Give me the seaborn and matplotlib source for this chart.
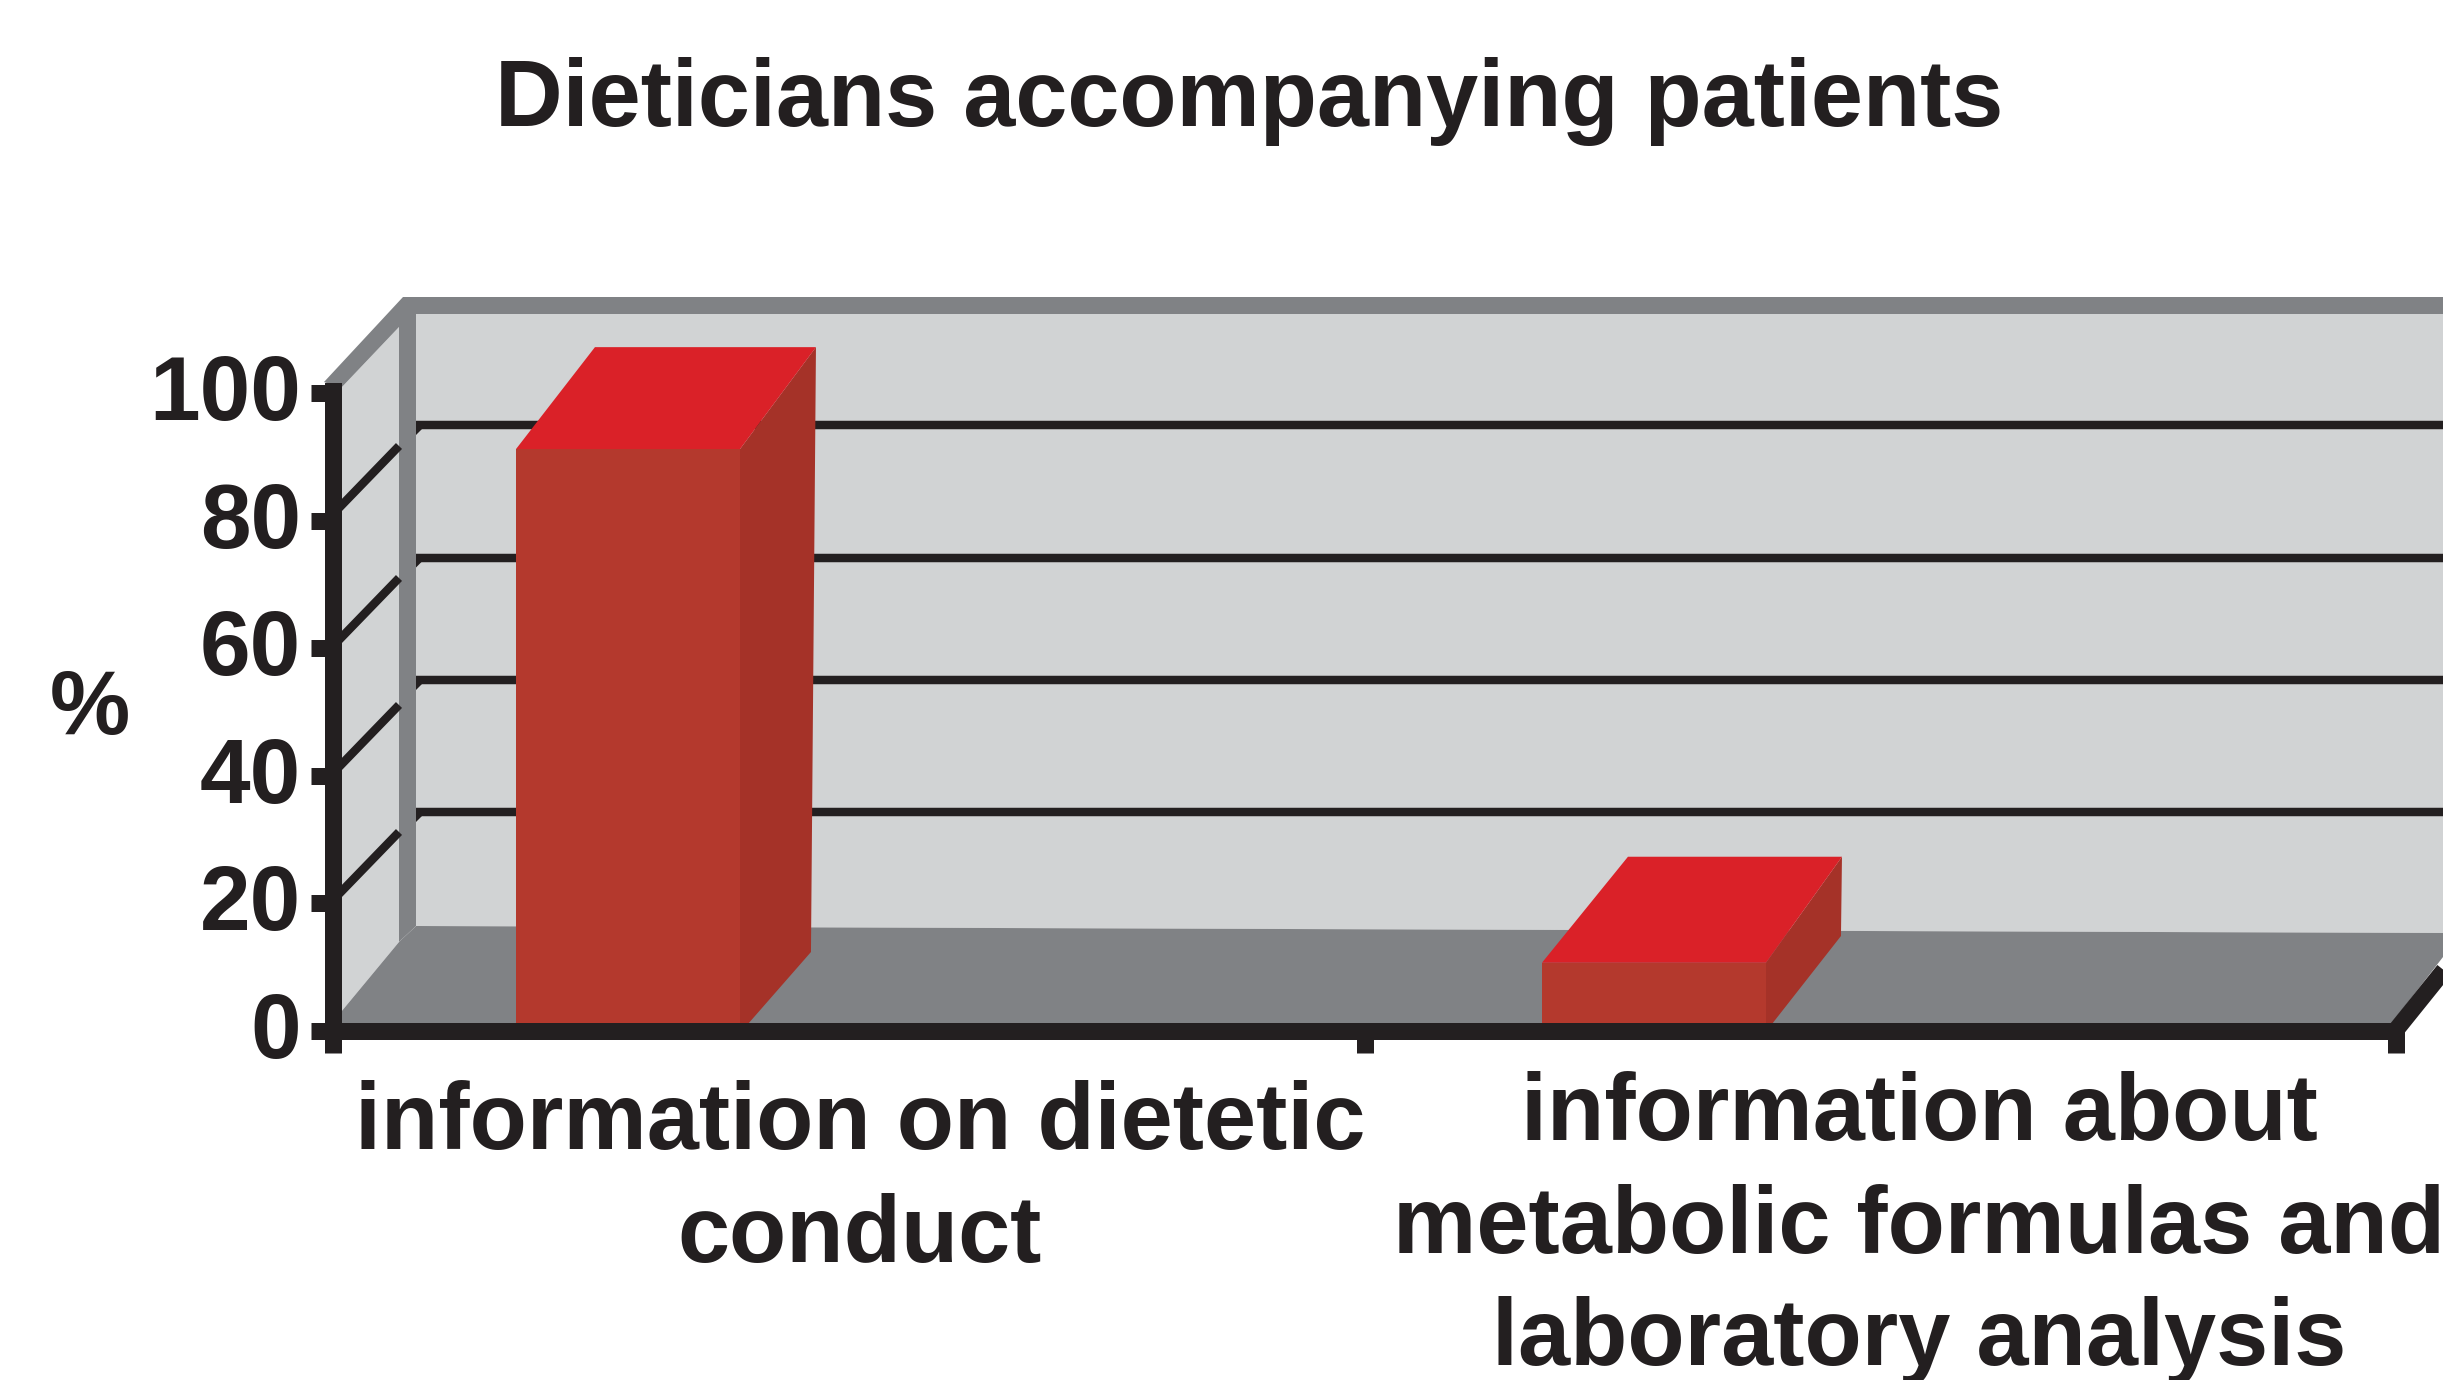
import matplotlib
matplotlib.use('Agg')
import matplotlib.pyplot as plt
from matplotlib.patches import Polygon
from matplotlib.transforms import ScaledTranslation
import pandas as pd
import seaborn as sns

# values
categories = ['information on dietetic\nconduct',
              'information about\nmetabolic formulas and\nlaboratory analysis']
percent = [91.2, 10.7]
# the two other series of the cluster have no visible bar
empty_series = [0, 0]
y_ticks = [0, 20, 40, 60, 80, 100]

WALL = '#d1d3d4'
FRAME = '#808285'
BLACK = '#231f20'
RED_FRONT = '#b4392d'
RED_SIDE = '#a53228'
RED_TOP = '#da2128'

W, H = 2443, 1380
sns.set_theme(style='white')
plt.rcParams['font.family'] = ['Liberation Sans', 'DejaVu Sans']
plt.rcParams['font.weight'] = 'bold'

fig = plt.figure(figsize=(W / 100, H / 100), dpi=100, facecolor='white')

# background axes in image pixels, holds the fake 3D room
bg = fig.add_axes([0, 0, 1, 1], zorder=0)
bg.set_xlim(0, W)
bg.set_ylim(H, 0)
bg.axis('off')

# chart axes sit on the front edge of the room
left, right, base, top = 332.5, 2395.5, 1031, 390.5
ax = fig.add_axes([left / W, 1 - base / H, (right - left) / W, (base - top) / H], zorder=1)
ax.patch.set_alpha(0)

df = pd.concat([
    pd.DataFrame({'category': categories, 'percent': percent, 'series': 'a'}),
    pd.DataFrame({'category': categories, 'percent': empty_series, 'series': 'b'}),
    pd.DataFrame({'category': categories, 'percent': empty_series, 'series': 'c'}),
])
sns.barplot(data=df, x='category', y='percent', hue='series', hue_order=['a', 'b', 'c'],
            palette={'a': RED_FRONT, 'b': RED_FRONT, 'c': RED_FRONT}, saturation=1,
            width=0.655, linewidth=0, legend=False, ax=ax)
xmin, xmax = -0.5063, 1.5044
ax.set_xlim(xmin, xmax)
ax.set_ylim(0, (base - top) / 6.38)

# room: back wall, left wall, floor
bg.add_patch(Polygon([(416, 314), (W, 314), (W, 933), (416, 926)], fc=WALL, ec='none'))
bg.add_patch(Polygon([(341, 388), (399, 327), (399, 942), (341, 1012)], fc=WALL, ec='none'))
bg.add_patch(Polygon([(399, 942), (416, 926), (W, 933), (W, 957), (2391, 1024), (341, 1024), (341, 1012)],
                     fc=FRAME, ec='none'))

# gridlines on both walls
for y in [425, 557.5, 680, 812]:
    bg.plot([416, W], [y, y], color=BLACK, lw=6.1, solid_capstyle='butt')
    bg.add_patch(Polygon([(416, y + 3), (423, y + 3), (416, y + 10)], fc=BLACK, ec='none'))
for y0, y1 in [(506, 446), (638, 578), (765, 705), (892, 832)]:
    bg.plot([338, 399], [y0 + 3, y1], color=BLACK, lw=6.1, solid_capstyle='butt')

# grey frame
bg.add_patch(Polygon([(324, 382), (403, 297), (W, 297), (W, 314), (416, 314), (416, 926), (399, 942),
                      (399, 327), (341, 388)], fc=FRAME, ec='none'))

# right edge of floor
bg.plot([2396, 2470], [1030, 938], color=BLACK, lw=12.2, solid_capstyle='butt')

# top and side faces of the bars, taken from the bars seaborn drew
top_dx_left = [79, 86]
top_dx_right = [76, 76]
top_dy = [102, 106]
foot_dx = [8, 6]
back_dx = [71, 75]
back_y = [952, 936]
bars = [p for p in ax.patches if p.get_height() > 0]
fig.canvas.draw()
for i, bar in enumerate(bars):
    x0, y0 = ax.transData.transform((bar.get_x(), bar.get_height()))
    x1, _ = ax.transData.transform((bar.get_x() + bar.get_width(), 0))
    y0 = H - y0
    bg.add_patch(Polygon([(x1, y0), (x1 + top_dx_right[i], y0 - top_dy[i]), (x1 + back_dx[i], back_y[i]),
                          (x1 + foot_dx[i], 1024), (x1, 1024)], fc=RED_SIDE, ec='none', zorder=5))
    bg.add_patch(Polygon([(x0, y0), (x0 + top_dx_left[i], y0 - top_dy[i]),
                          (x1 + top_dx_right[i], y0 - top_dy[i]), (x1, y0)], fc=RED_TOP, ec='none', zorder=6))

# axes
sns.despine(ax=ax, top=True, right=True)
for side in ['left', 'bottom']:
    ax.spines[side].set_linewidth(12.24)
    ax.spines[side].set_color(BLACK)
ax.set_yticks(y_ticks)
ax.set_xticks([xmin, 0.5, xmax])
ax.set_xticklabels([])
ax.tick_params(axis='both', length=16, width=12.24, color=BLACK, direction='out', bottom=True, left=True)
ax.tick_params(axis='y', labelsize=65.5, labelcolor=BLACK, pad=6.8)
# labels sit a little above their ticks in the reference
for label in ax.get_yticklabels():
    label.set_transform(label.get_transform() + ScaledTranslation(0, 0.06, fig.dpi_scale_trans))
ax.set_xlabel('')
ax.set_ylabel('%', rotation=0, fontsize=65, fontweight='bold', color=BLACK, ha='center', va='center')
ax.yaxis.set_label_coords((90 - left) / (right - left), (base - 710) / (base - top))

# text lives in pixel space because labels sit off-centre from the categories
bg.text(1249, 102, 'Dieticians accompanying patients', fontsize=67.4, fontweight='bold',
        color=BLACK, ha='center', va='center')
bg.text(860, 1181, categories[0], fontsize=67.5, fontweight='bold', color=BLACK,
        ha='center', va='center', linespacing=1.337)
bg.text(1919, 1228, categories[1], fontsize=67.5, fontweight='bold', color=BLACK,
        ha='center', va='center', linespacing=1.337)

fig.savefig('out.png', dpi=100)
